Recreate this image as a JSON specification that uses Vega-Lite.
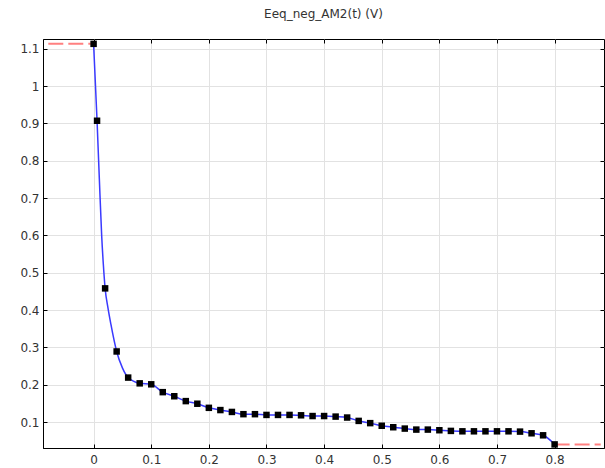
{
  "$schema": "https://vega.github.io/schema/vega-lite/v6.json",
  "autosize": "none",
  "width": 561,
  "height": 409,
  "padding": {"left": 43, "top": 39, "right": 1, "bottom": 20},
  "background": "white",
  "title": {"text": "Eeq_neg_AM2(t) (V)", "fontSize": 12, "fontWeight": "normal", "font": "DejaVu Sans", "color": "#333333", "offset": 18, "anchor": "middle"},
  "config": {
    "view": {"stroke": "#000000", "strokeWidth": 1},
    "axis": {"labelFont": "DejaVu Sans", "labelFontSize": 12, "labelColor": "#333333", "gridColor": "#e2e2e2", "gridWidth": 1, "tickColor": "#000000", "domainColor": "#000000", "title": null}
  },
  "datasets": {
    "curve": [
      {"t": 0, "v": 1.113, "m": 1},
      {"t": 0.006, "v": 0.907, "m": 1},
      {"t": 0.01, "v": 0.75, "m": 0},
      {"t": 0.014, "v": 0.6, "m": 0},
      {"t": 0.017, "v": 0.52, "m": 0},
      {"t": 0.02, "v": 0.458, "m": 1},
      {"t": 0.025, "v": 0.405, "m": 0},
      {"t": 0.03, "v": 0.362, "m": 0},
      {"t": 0.04, "v": 0.289, "m": 1},
      {"t": 0.05, "v": 0.245, "m": 0},
      {"t": 0.06, "v": 0.219, "m": 1},
      {"t": 0.08, "v": 0.2036, "m": 1},
      {"t": 0.1, "v": 0.201, "m": 1},
      {"t": 0.12, "v": 0.18, "m": 1},
      {"t": 0.14, "v": 0.169, "m": 1},
      {"t": 0.16, "v": 0.156, "m": 1},
      {"t": 0.18, "v": 0.149, "m": 1},
      {"t": 0.2, "v": 0.138, "m": 1},
      {"t": 0.22, "v": 0.132, "m": 1},
      {"t": 0.24, "v": 0.127, "m": 1},
      {"t": 0.26, "v": 0.121, "m": 1},
      {"t": 0.28, "v": 0.121, "m": 1},
      {"t": 0.3, "v": 0.119, "m": 1},
      {"t": 0.32, "v": 0.119, "m": 1},
      {"t": 0.34, "v": 0.119, "m": 1},
      {"t": 0.36, "v": 0.118, "m": 1},
      {"t": 0.38, "v": 0.116, "m": 1},
      {"t": 0.4, "v": 0.116, "m": 1},
      {"t": 0.42, "v": 0.1145, "m": 1},
      {"t": 0.44, "v": 0.112, "m": 1},
      {"t": 0.46, "v": 0.103, "m": 1},
      {"t": 0.48, "v": 0.097, "m": 1},
      {"t": 0.5, "v": 0.09, "m": 1},
      {"t": 0.52, "v": 0.086, "m": 1},
      {"t": 0.54, "v": 0.0824, "m": 1},
      {"t": 0.56, "v": 0.0797, "m": 1},
      {"t": 0.58, "v": 0.0797, "m": 1},
      {"t": 0.6, "v": 0.078, "m": 1},
      {"t": 0.62, "v": 0.0762, "m": 1},
      {"t": 0.64, "v": 0.0751, "m": 1},
      {"t": 0.66, "v": 0.0751, "m": 1},
      {"t": 0.68, "v": 0.0751, "m": 1},
      {"t": 0.7, "v": 0.0751, "m": 1},
      {"t": 0.72, "v": 0.0751, "m": 1},
      {"t": 0.74, "v": 0.0743, "m": 1},
      {"t": 0.76, "v": 0.0698, "m": 1},
      {"t": 0.78, "v": 0.0644, "m": 1},
      {"t": 0.8, "v": 0.04, "m": 1}
    ],
    "extrap": [
      {"t": -0.0786, "v": 1.113, "seg": "left"},
      {"t": 0, "v": 1.113, "seg": "left"},
      {"t": 0.8, "v": 0.04, "seg": "right"},
      {"t": 0.88, "v": 0.04, "seg": "right"}
    ]
  },
  "resolve": {"axis": {"x": "independent", "y": "independent"}},
  "layer": [
    {
      "data": {"name": "extrap"},
      "mark": {"type": "line", "color": "#ff8080", "strokeWidth": 2, "strokeDash": [15, 5], "clip": true},
      "encoding": {
        "x": {"field": "t", "type": "quantitative", "scale": {"domain": [-0.0878, 0.8857], "nice": false, "zero": false},
          "axis": {"orient": "bottom", "values": [0, 0.1, 0.2, 0.3, 0.4, 0.5, 0.6, 0.7, 0.8], "format": "~g", "tickSize": -4, "labelPadding": 10, "grid": true}},
        "y": {"field": "v", "type": "quantitative", "scale": {"domain": [0.0304, 1.126], "nice": false, "zero": false},
          "axis": {"orient": "left", "values": [0.1, 0.2, 0.3, 0.4, 0.5, 0.6, 0.7, 0.8, 0.9, 1, 1.1], "format": "~g", "tickSize": -4, "labelPadding": 8, "grid": true}},
        "detail": {"field": "seg"}
      }
    },
    {
      "data": {"name": "curve"},
      "mark": {"type": "line", "color": "#3a3aff", "strokeWidth": 1.5, "interpolate": "monotone"},
      "encoding": {
        "x": {"field": "t", "type": "quantitative",
          "axis": {"orient": "top", "values": [0, 0.1, 0.2, 0.3, 0.4, 0.5, 0.6, 0.7, 0.8], "labels": false, "domain": false, "tickSize": -4, "grid": false}},
        "y": {"field": "v", "type": "quantitative",
          "axis": {"orient": "right", "values": [0.1, 0.2, 0.3, 0.4, 0.5, 0.6, 0.7, 0.8, 0.9, 1, 1.1], "labels": false, "domain": false, "tickSize": -4, "grid": false}}
      }
    },
    {
      "data": {"name": "curve"},
      "transform": [{"filter": "datum.m == 1"}],
      "mark": {"type": "square", "color": "#000000", "opacity": 1, "size": 42, "filled": true},
      "encoding": {
        "x": {"field": "t", "type": "quantitative", "axis": null},
        "y": {"field": "v", "type": "quantitative", "axis": null}
      }
    }
  ]
}
